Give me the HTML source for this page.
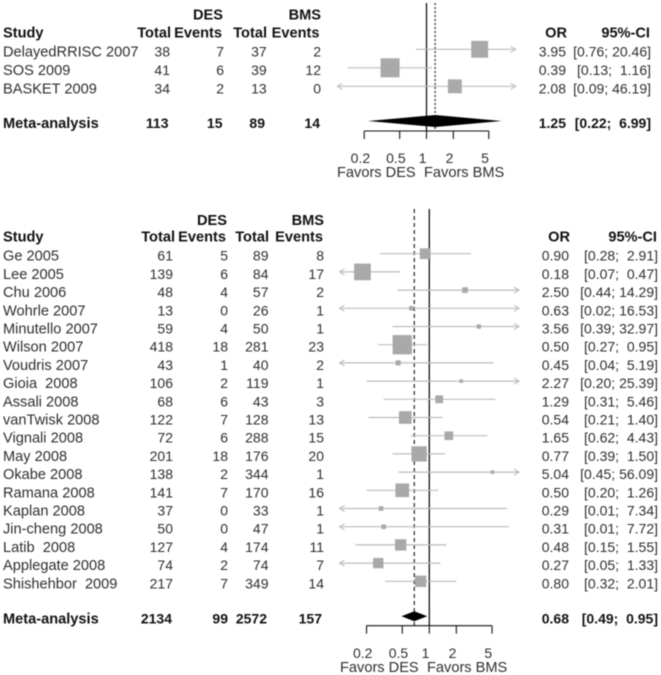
<!DOCTYPE html>
<html lang="en">
<head>
<meta charset="utf-8">
<title>Forest plots DES vs BMS</title>
<style>
html,body{margin:0;padding:0;background:#fff;width:661px;height:675px;overflow:hidden}
svg{display:block;filter:blur(0.4px)}
text{font-family:"Liberation Sans",Arial,sans-serif;font-size:14px;fill:#2e2e2e;white-space:pre}
text.w{font-size:14.6px}
text.b{font-weight:bold;fill:#111}
</style>
</head>
<body>
<svg id="chart" width="661" height="675" viewBox="0 0 661 675" xmlns="http://www.w3.org/2000/svg"></svg>
<script>
// Upper forest plot data
const topStudies = ["DelayedRRISC 2007", "SOS 2009", "BASKET 2009"];
const topDesTotal = [38, 41, 34];
const topDesEvents = [7, 6, 2];
const topBmsTotal = [37, 39, 13];
const topBmsEvents = [2, 12, 0];
const topOr = [3.95, 0.39, 2.08];
const topLower = [0.76, 0.13, 0.09];
const topUpper = [20.46, 1.16, 46.19];
const topWeights = [34, 43, 23];
const topMeta = [113, 15, 89, 14];
const topMetaOr = 1.25;
const topMetaLower = 0.22;
const topMetaUpper = 6.99;

// Lower forest plot data
const lowStudies = ["Ge 2005", "Lee 2005", "Chu 2006", "Wohrle 2007", "Minutello 2007", "Wilson 2007", "Voudris 2007", "Gioia  2008", "Assali 2008", "vanTwisk 2008", "Vignali 2008", "May 2008", "Okabe 2008", "Ramana 2008", "Kaplan 2008", "Jin-cheng 2008", "Latib  2008", "Applegate 2008", "Shishehbor  2009"];
const lowDesTotal = [61, 139, 48, 13, 59, 418, 43, 106, 68, 122, 72, 201, 138, 141, 37, 50, 127, 74, 217];
const lowDesEvents = [5, 6, 4, 0, 4, 18, 1, 2, 6, 7, 6, 18, 2, 7, 0, 0, 4, 2, 7];
const lowBmsTotal = [89, 84, 57, 26, 50, 281, 40, 119, 43, 128, 288, 176, 344, 170, 33, 47, 174, 74, 349];
const lowBmsEvents = [8, 17, 2, 1, 1, 23, 2, 1, 3, 13, 15, 20, 1, 16, 1, 1, 11, 7, 14];
const lowOr = [0.90, 0.18, 2.50, 0.63, 3.56, 0.50, 0.45, 2.27, 1.29, 0.54, 1.65, 0.77, 5.04, 0.50, 0.29, 0.31, 0.48, 0.27, 0.80];
const lowLower = [0.28, 0.07, 0.44, 0.02, 0.39, 0.27, 0.04, 0.20, 0.31, 0.21, 0.62, 0.39, 0.45, 0.20, 0.01, 0.01, 0.15, 0.05, 0.32];
const lowUpper = [2.91, 0.47, 14.29, 16.53, 32.97, 0.95, 5.19, 25.39, 5.46, 1.40, 4.43, 1.50, 56.09, 1.26, 7.34, 7.72, 1.55, 1.33, 2.01];
const lowWeights = [5.4, 13.0, 1.5, 0.9, 0.9, 17.4, 1.2, 0.6, 2.8, 7.5, 3.5, 10.9, 0.6, 8.7, 1.0, 1.0, 6.0, 5.0, 6.0];
const lowMeta = [2134, 99, 2572, 157];
const lowMetaOr = 0.68;
const lowMetaLower = 0.49;
const lowMetaUpper = 0.95;

// Shared axis data
const axisTicks = [0.2, 0.5, 1, 2, 5];
const axisTickLabels = ["0.2", "0.5", "1", "2", "5"];
const axisLimits = [0.1, 10];

const NS = "http://www.w3.org/2000/svg";
const svg = document.getElementById("chart");

function make(tag, attrs, parent, content) {
  const node = document.createElementNS(NS, tag);
  for (const k in attrs) node.setAttribute(k, attrs[k]);
  if (content !== undefined) node.textContent = content;
  parent.appendChild(node);
  return node;
}

function slug(s) {
  return s.trim().toLowerCase().replace(/[^a-z0-9]+/g, "-");
}

function drawForest(cfg, d) {
  const xScale = v => cfg.refX + Math.log(v) * cfg.pxPerLog;
  const yScale = i => cfg.rowY + i * cfg.rowStep;
  const xMin = xScale(axisLimits[0]);
  const xMax = xScale(axisLimits[1]);

  const g = make("g", {}, svg);
  
  

  function label(str, x, y, anchor, bold, name) {
    const cls = (bold ? "b " : "") + (/[a-zA-Z]/.test(str) ? "w" : "");
    const t = make("text", {x: x, y: y, "text-anchor": anchor, class: cls}, g, str);
    
    
    return t;
  }

  // column headers
  label("DES", cfg.headX.des, cfg.head1, "end", true, "des-group-header");
  label("BMS", cfg.headX.bms, cfg.head1, "end", true, "bms-group-header");
  label("Study", 3, cfg.head2, "start", true, "study-column-header");
  label("Total", cfg.headX.t1, cfg.head2, "end", true, "des-total-header");
  label("Events", cfg.headX.e1, cfg.head2, "end", true, "des-events-header");
  label("Total", cfg.headX.t2, cfg.head2, "end", true, "bms-total-header");
  label("Events", cfg.headX.e2, cfg.head2, "end", true, "bms-events-header");
  label("OR", cfg.orX + 1, cfg.head2, "end", true, "or-column-header");
  label("95%-CI", cfg.ciX - (cfg.ciHeadShift), cfg.head2, "end", true, "ci-column-header");

  // reference and pooled lines
  const ref = make("line", {x1: xScale(1), x2: xScale(1), y1: cfg.lineTop, y2: cfg.axisY, stroke: "#111", "stroke-width": 1.3}, g);
  
  
  const pooled = make("line", {x1: xScale(d.metaOr), x2: xScale(d.metaOr), y1: cfg.lineTop, y2: cfg.axisY, stroke: "#111", "stroke-width": 1.1, "stroke-dasharray": cfg.dash}, g);
  
  

  const ciText = (lo, hi) => "[" + lo.toFixed(2) + ";" + (hi < 10 ? "  " : " ") + hi.toFixed(2) + "]";

  d.studies.forEach((study, i) => {
    const y = yScale(i);
    const base = y + 7;
    const id = slug(study);
    label(study, 3, base, "start", false, "study-label-" + id);
    label(String(d.desTotal[i]), cfg.col[0], base, "end", false, "des-total-" + id);
    label(String(d.desEvents[i]), cfg.col[1], base, "end", false, "des-events-" + id);
    label(String(d.bmsTotal[i]), cfg.col[2], base, "end", false, "bms-total-" + id);
    label(String(d.bmsEvents[i]), cfg.col[3], base, "end", false, "bms-events-" + id);
    label(d.or[i].toFixed(2), cfg.orX, base, "end", false, "or-value-" + id);
    label(ciText(d.lower[i], d.upper[i]), cfg.ciX, base, "end", false, "ci-value-" + id);

    // confidence interval, clipped to the axis limits with arrowheads
    const x1 = Math.max(xMin, xScale(d.lower[i]));
    const x2 = Math.min(xMax, xScale(d.upper[i]));
    const ci = make("line", {x1: x1, x2: x2, y1: y, y2: y, stroke: "#bdbdbd", "stroke-width": 1.2}, g);
    
    
    if (xScale(d.lower[i]) < xMin) {
      const a = make("polyline", {points: (xMin + 5) + "," + (y - 3) + " " + xMin + "," + y + " " + (xMin + 5) + "," + (y + 3), fill: "none", stroke: "#bdbdbd", "stroke-width": 1.1}, g);
      
      
    }
    if (xScale(d.upper[i]) > xMax) {
      const a = make("polyline", {points: (xMax - 5) + "," + (y - 3) + " " + xMax + "," + y + " " + (xMax - 5) + "," + (y + 3), fill: "none", stroke: "#bdbdbd", "stroke-width": 1.1}, g);
      
      
    }
    const side = cfg.sizeK * Math.sqrt(d.weights[i]);
    const sq = make("rect", {x: xScale(d.or[i]) - side / 2, y: y - side / 2, width: side, height: side, fill: "#a9a9a9"}, g);
    
    
  });

  // meta-analysis row
  label("Meta-analysis", 3, cfg.metaBase, "start", true, "meta-analysis-label");
  label(String(d.meta[0]), cfg.metaCol[0], cfg.metaBase, "end", true, "meta-des-total");
  label(String(d.meta[1]), cfg.metaCol[1], cfg.metaBase, "end", true, "meta-des-events");
  label(String(d.meta[2]), cfg.metaCol[2], cfg.metaBase, "end", true, "meta-bms-total");
  label(String(d.meta[3]), cfg.metaCol[3], cfg.metaBase, "end", true, "meta-bms-events");
  label(d.metaOr.toFixed(2), cfg.orX, cfg.metaBase, "end", true, "meta-or-value");
  label(ciText(d.metaLower, d.metaUpper), cfg.ciX, cfg.metaBase, "end", true, "meta-ci-value");

  const dm = make("polygon", {
    points: xScale(d.metaLower) + "," + cfg.metaY + " " + xScale(d.metaOr) + "," + (cfg.metaY - cfg.metaH) + " " + xScale(d.metaUpper) + "," + cfg.metaY + " " + xScale(d.metaOr) + "," + (cfg.metaY + cfg.metaH),
    fill: "#000"
  }, g);
  
  

  // axis
  const ax = make("line", {x1: xScale(axisTicks[0]), x2: xScale(axisTicks[axisTicks.length - 1]), y1: cfg.axisY, y2: cfg.axisY, stroke: "#111", "stroke-width": 1.1}, g);
  
  
  axisTicks.forEach((v, i) => {
    const tk = make("line", {x1: xScale(v), x2: xScale(v), y1: cfg.axisY, y2: cfg.axisY + 8, stroke: "#111", "stroke-width": 1.1}, g);
    
    
    label(axisTickLabels[i], xScale(v) - 3.8, cfg.tickBase, "middle", false, "x-axis-tick-label");
  });
  label("Favors DES", cfg.favL, cfg.favBase, "start", false, "favors-des-label");
  label("Favors BMS", cfg.favR, cfg.favBase, "start", false, "favors-bms-label");
}

drawForest({
  name: "upper-forest-plot", refX: 426.5, pxPerLog: 38.7, rowY: 49.3, rowStep: 18.5,
  col: [170, 224, 266.7, 321], metaCol: [168.5, 222.5, 265, 320],
  headX: {des: 223, bms: 321, t1: 171, e1: 222, t2: 267, e2: 319.5},
  orX: 566, ciX: 651, ciHeadShift: 1,
  head1: 19.5, head2: 37.5, lineTop: 3, axisY: 131, metaY: 121, metaH: 6, metaBase: 128,
  tickBase: 163, favBase: 177, favL: 337, favR: 424, sizeK: 2.9, dash: "2 2"
}, {
  studies: topStudies, desTotal: topDesTotal, desEvents: topDesEvents, bmsTotal: topBmsTotal,
  bmsEvents: topBmsEvents, or: topOr, lower: topLower, upper: topUpper, weights: topWeights,
  meta: topMeta, metaOr: topMetaOr, metaLower: topMetaLower, metaUpper: topMetaUpper
});

drawForest({
  name: "lower-forest-plot", refX: 429.3, pxPerLog: 39, rowY: 253.7, rowStep: 18.2,
  col: [173, 228, 268.5, 324], metaCol: [172, 228, 267, 322],
  headX: {des: 227, bms: 324, t1: 175, e1: 226, t2: 269, e2: 323},
  orX: 569, ciX: 658, ciHeadShift: 1,
  head1: 225, head2: 241.7, lineTop: 209, axisY: 625.7, metaY: 616.3, metaH: 5, metaBase: 623.5,
  tickBase: 658, favBase: 672, favL: 340, favR: 427, sizeK: 4.63, dash: "4 3"
}, {
  studies: lowStudies, desTotal: lowDesTotal, desEvents: lowDesEvents, bmsTotal: lowBmsTotal,
  bmsEvents: lowBmsEvents, or: lowOr, lower: lowLower, upper: lowUpper, weights: lowWeights,
  meta: lowMeta, metaOr: lowMetaOr, metaLower: lowMetaLower, metaUpper: lowMetaUpper
});
</script>
</body>
</html>
